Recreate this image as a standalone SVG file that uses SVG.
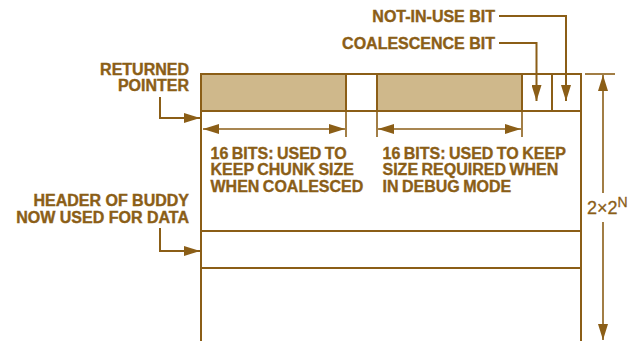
<svg xmlns="http://www.w3.org/2000/svg" width="642" height="341" viewBox="0 0 642 341">
  <defs>
    <style>
      .ln { stroke: #8B5E17; stroke-width: 2; fill: none; }
      .dim { stroke: #8B5E17; stroke-width: 1.6; fill: none; }
      .tan { fill: #CFB88B; stroke: #8B5E17; stroke-width: 2; }
      .lbl { font-family: "Liberation Sans", Arial, sans-serif; font-weight: bold; font-size: 16px; fill: #8B5E17; stroke: #8B5E17; stroke-width: 0.4; }
      .body { font-family: "Liberation Sans", Arial, sans-serif; font-weight: bold; font-size: 16px; word-spacing: -1px; fill: #8B5E17; stroke: #8B5E17; stroke-width: 0.35; }
      .dimtxt { font-family: "Liberation Sans", Arial, sans-serif; font-size: 18px; fill: #8B5E17; stroke: #8B5E17; stroke-width: 0.3; }
    </style>
    <marker id="head" viewBox="0 0 16 10" refX="16" refY="5" markerWidth="16" markerHeight="10" markerUnits="userSpaceOnUse" orient="auto-start-reverse">
      <path d="M0,0 L16,5 L0,10 Z" fill="#8B5E17"/>
    </marker>
  </defs>

  <!-- memory chunk layout -->
  <g id="chunk">
    <rect class="tan" x="201" y="74" width="145" height="37"/>
    <rect class="tan" x="377" y="74" width="145" height="37"/>
    <line class="ln" x1="201" y1="74" x2="581" y2="74"/>
    <line class="ln" x1="201" y1="111" x2="581" y2="111"/>
    <line class="ln" x1="552" y1="74" x2="552" y2="111"/>
    <line class="ln" x1="201" y1="231" x2="581" y2="231"/>
    <line class="ln" x1="201" y1="268" x2="581" y2="268"/>
    <line class="ln" x1="201" y1="73" x2="201" y2="341"/>
    <line class="ln" x1="581" y1="73" x2="581" y2="341"/>
    <!-- field extent ticks -->
    <line class="dim" x1="346" y1="111" x2="346" y2="137"/>
    <line class="dim" x1="377" y1="111" x2="377" y2="137"/>
    <line class="dim" x1="522" y1="111" x2="522" y2="137"/>
  </g>

  <g id="field-chunk-size">
    <text class="body" x="210.5" y="158.5">16 BITS: USED TO</text>
    <text class="body" x="210.5" y="175">KEEP CHUNK SIZE</text>
    <text class="body" x="210.5" y="192">WHEN COALESCED</text>
  </g>
  <g id="field-debug-size">
    <text class="body" x="382.5" y="158.5">16 BITS: USED TO KEEP</text>
    <text class="body" x="382.5" y="175">SIZE REQUIRED WHEN</text>
    <text class="body" x="382.5" y="192">IN DEBUG MODE</text>
  </g>

  <g id="label-not-in-use">
    <text class="lbl" x="495" y="21.5" text-anchor="end">NOT-IN-USE BIT</text>
  </g>
  <g id="label-coalescence">
    <text class="lbl" x="495" y="48.5" text-anchor="end">COALESCENCE BIT</text>
  </g>
  <g id="label-returned">
    <text class="lbl" x="189" y="74.5" text-anchor="end">RETURNED</text>
    <text class="lbl" x="189" y="91" text-anchor="end">POINTER</text>
  </g>
  <g id="label-header">
    <text class="lbl" x="189" y="206" text-anchor="end">HEADER OF BUDDY</text>
    <text class="lbl" x="189" y="222.5" text-anchor="end">NOW USED FOR DATA</text>
  </g>
  <g id="label-size">
    <text class="dimtxt" x="587" y="214">2×2<tspan dy="-7" font-size="14">N</tspan></text>
  </g>

  <g id="connectors">
    <path class="ln" d="M499,16 H566 V101" marker-end="url(#head)"/>
    <path class="ln" d="M499,43 H536.5 V101" marker-end="url(#head)"/>
    <path class="ln" d="M160,97 V118 H200" marker-end="url(#head)"/>
    <path class="ln" d="M160,228 V251 H200" marker-end="url(#head)"/>
    <line class="dim" x1="203" y1="129" x2="345" y2="129" marker-start="url(#head)" marker-end="url(#head)"/>
    <line class="dim" x1="378" y1="129" x2="521" y2="129" marker-start="url(#head)" marker-end="url(#head)"/>
    <!-- overall height dimension -->
    <line class="dim" x1="585" y1="74" x2="615" y2="74"/>
    <line class="dim" x1="603" y1="75" x2="603" y2="193" marker-start="url(#head)"/>
    <line class="dim" x1="603" y1="222" x2="603" y2="340" marker-end="url(#head)"/>
  </g>
</svg>
